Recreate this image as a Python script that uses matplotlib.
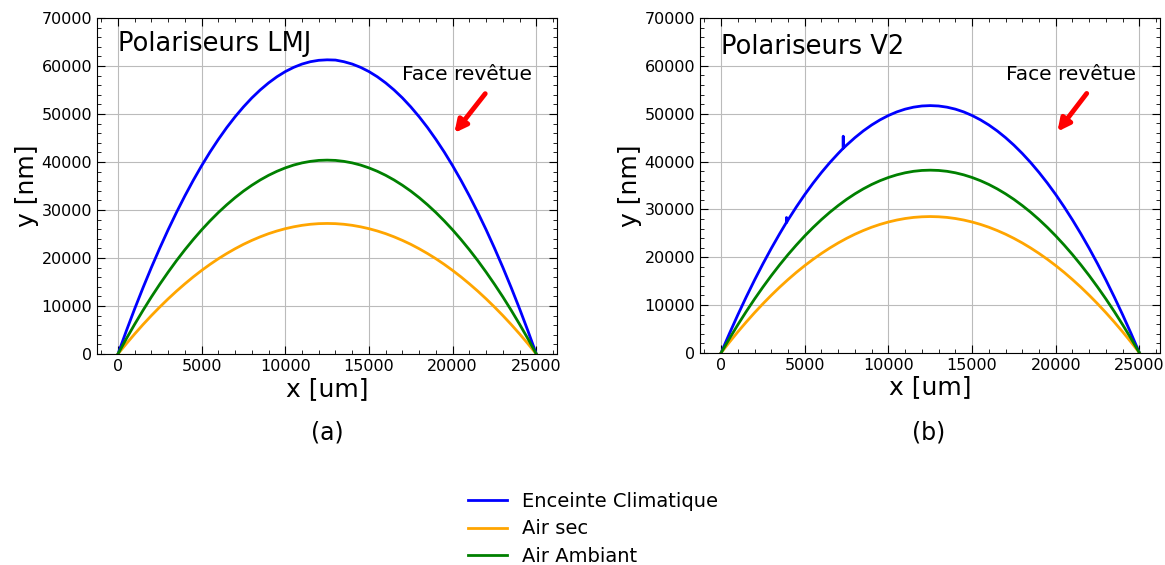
import numpy as np
import matplotlib
matplotlib.use("Agg")
import matplotlib.pyplot as plt
from matplotlib.ticker import AutoMinorLocator

# x positions (um), shared by most curves
x = [0, 500, 1000, 1500, 2000, 2500, 3000, 3500, 4000, 4500, 5000, 5500, 6000, 6500, 7000, 7500,
     8000, 8500, 9000, 9500, 10000, 10500, 11000, 11500, 12000, 12500, 13000, 13500, 14000, 14500,
     15000, 15500, 16000, 16500, 17000, 17500, 18000, 18500, 19000, 19500, 20000, 20500, 21000,
     21500, 22000, 22500, 23000, 23500, 24000, 24500, 25000]

# Polariseurs LMJ
lmj_enceinte = [0, 4810, 9420, 13830, 18050, 22070, 25900, 29520, 32950, 36190, 39230, 42080, 44720,
                47180, 49430, 51490, 53360, 55020, 56490, 57770, 58850, 59730, 60420, 60910, 61200,
                61300, 61250, 60910, 60420, 59730, 58850, 57770, 56490, 55020, 53360, 51490, 49430,
                47180, 44720, 42080, 39230, 36190, 32950, 29520, 25900, 22070, 18050, 13830, 9420,
                4810, 0]
lmj_sec = [0, 2130, 4180, 6140, 8010, 9790, 11490, 13100, 14620, 16060, 17410, 18670, 19850, 20930,
           21930, 22850, 23670, 24410, 25070, 25630, 26110, 26500, 26810, 27030, 27160, 27200, 27160,
           27030, 26810, 26500, 26110, 25630, 25070, 24410, 23670, 22850, 21930, 20930, 19850, 18670,
           17410, 16060, 14620, 13100, 11490, 9790, 8010, 6140, 4180, 2130, 0]
lmj_ambiant = [0, 3170, 6200, 9110, 11900, 14540, 17060, 19460, 21720, 23850, 25860, 27730, 29480,
               31090, 32580, 33940, 35160, 36260, 37230, 38070, 38780, 39370, 39820, 40140, 40340,
               40400, 40340, 40140, 39820, 39370, 38780, 38070, 37230, 36260, 35160, 33940, 32580,
               31090, 29480, 27730, 25860, 23850, 21720, 19460, 17060, 14540, 11900, 9110, 6200,
               3170, 0]

# Polariseurs V2 (blue curve has small glitches near x=3910 and x=7300)
v2_x_enceinte = [0, 500, 1000, 1500, 2000, 2500, 3000, 3500, 3900, 3910, 3920, 4000, 4500, 5000,
                 5500, 6000, 6500, 7000, 7290, 7300, 7310, 7500, 8000, 8500, 9000, 9500, 10000,
                 10500, 11000, 11500, 12000, 12500, 13000, 13500, 14000, 14500, 15000, 15500, 16000,
                 16500, 17000, 17500, 18000, 18500, 19000, 19500, 20000, 20500, 21000, 21500, 22000,
                 22500, 23000, 23500, 24000, 24500, 25000]
v2_enceinte = [0, 4050, 7940, 11660, 15220, 18610, 21840, 24900, 27250, 28300, 27300, 27790, 30520,
               33090, 35490, 37720, 39790, 41690, 42750, 45300, 42800, 43430, 45000, 46410, 47650,
               48720, 49630, 50380, 50960, 51370, 51620, 51700, 51620, 51370, 50960, 50380, 49630,
               48720, 47650, 46410, 45000, 43430, 41690, 39790, 37720, 35490, 33090, 30520, 27790,
               24900, 21840, 18610, 15220, 11660, 7940, 4050, 0]
v2_sec = [0, 2230, 4380, 6430, 8390, 10260, 12040, 13730, 15320, 16830, 18240, 19560, 20790, 21930,
          22980, 23940, 24810, 25580, 26270, 26860, 27360, 27770, 28090, 28320, 28450, 28500, 28450,
          28320, 28090, 27770, 27360, 26860, 26270, 25580, 24810, 23940, 22980, 21930, 20790, 19560,
          18240, 16830, 15320, 13730, 12040, 10260, 8390, 6430, 4380, 2230, 0]
v2_ambiant = [0, 2990, 5870, 8620, 11250, 13750, 16140, 18400, 20540, 22550, 24450, 26220, 27870,
              29400, 30800, 32090, 33250, 34290, 35210, 36000, 36670, 37220, 37650, 37960, 38140,
              38200, 38140, 37960, 37650, 37220, 36670, 36000, 35210, 34290, 33250, 32090, 30800,
              29400, 27870, 26220, 24450, 22550, 20540, 18400, 16140, 13750, 11250, 8620, 5870,
              2990, 0]

fig = plt.figure(figsize=(11.65, 5.65), dpi=100)
ax1 = fig.add_axes([0.0833, 0.3735, 0.395, 0.5945])
ax2 = fig.add_axes([0.601, 0.3755, 0.395, 0.5925])


def style(ax):
    ax.set_xlim(-1250, 26250)
    ax.set_ylim(0, 70000)
    ax.set_xticks([0, 5000, 10000, 15000, 20000, 25000])
    ax.set_yticks(range(0, 70001, 10000))
    ax.xaxis.set_minor_locator(AutoMinorLocator(5))
    ax.yaxis.set_minor_locator(AutoMinorLocator(5))
    ax.tick_params(which="both", direction="in", top=True, right=True, labelsize=11.5)
    ax.tick_params(which="major", length=6)
    ax.tick_params(which="minor", length=3)
    ax.grid(True, color="#bbbbbb", linewidth=0.8)
    ax.set_axisbelow(True)
    ax.set_xlabel("x [um]", fontsize=18, labelpad=2)
    ax.set_ylabel("y [nm]", fontsize=18, labelpad=2)


arrow = dict(arrowstyle="-|>", color="red", lw=3.5, mutation_scale=18)

# -----------------------------
# (a) Polariseurs LMJ
# -----------------------------
ax1.plot(x, lmj_enceinte, color="blue", lw=2, label="Enceinte Climatique")
ax1.plot(x, lmj_sec, color="orange", lw=2, label="Air sec")
ax1.plot(x, lmj_ambiant, color="green", lw=2, label="Air Ambiant")
style(ax1)
ax1.text(0, 64700, "Polariseurs LMJ", fontsize=18.5, va="center")
ax1.text(17000, 58300, "Face revêtue", fontsize=14.5, va="center")
ax1.annotate("", xy=(20000, 45600), xytext=(22050, 54700), arrowprops=arrow)

# -----------------------------
# (b) Polariseurs V2
# -----------------------------
ax2.plot(v2_x_enceinte, v2_enceinte, color="blue", lw=2)
ax2.plot(x, v2_sec, color="orange", lw=2)
ax2.plot(x, v2_ambiant, color="green", lw=2)
style(ax2)
ax2.text(0, 63900, "Polariseurs V2", fontsize=18.5, va="center")
ax2.text(17000, 58300, "Face revêtue", fontsize=14.5, va="center")
ax2.annotate("", xy=(20000, 45800), xytext=(21950, 54700), arrowprops=arrow)

fig.text(0.281, 0.234, "(a)", fontsize=17, ha="center", va="center")
fig.text(0.797, 0.234, "(b)", fontsize=17, ha="center", va="center")

fig.legend(loc="lower center", bbox_to_anchor=(0.509, -0.033), frameon=False, fontsize=14,
           handlelength=2.0, labelspacing=0.45)

fig.savefig("out.png", dpi=100)
